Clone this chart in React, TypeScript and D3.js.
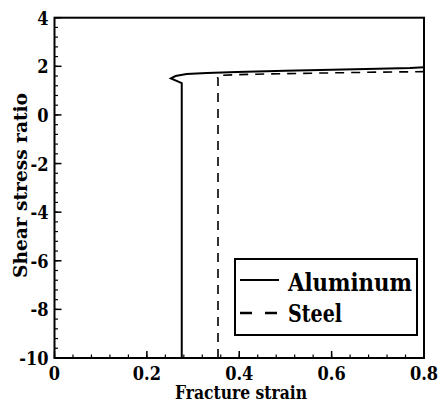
import React from 'react';
import * as d3 from 'd3';

// aluminum curve (fracture strain, shear stress ratio)
const aluminumX = [0.2755, 0.2755, 0.252, 0.262, 0.286, 0.33, 0.395, 0.5, 0.6, 0.7, 0.77, 0.8];
const aluminumY = [-10, 1.31, 1.5, 1.6, 1.68, 1.72, 1.77, 1.82, 1.86, 1.9, 1.93, 1.96];

// steel curve
const steelX = [0.354, 0.354, 0.352, 0.36, 0.4, 0.5, 0.6, 0.7, 0.8];
const steelY = [-10, 1.5, 1.58, 1.63, 1.66, 1.7, 1.73, 1.76, 1.78];

const xTicks = [0, 0.2, 0.4, 0.6, 0.8];
const yTicks = [4, 2, 0, -2, -4, -6, -8, -10];
const legendNames = ['Aluminum', 'Steel'];

const W = 438, H = 405;
const margin = {top: 17.7, right: 14, bottom: 47, left: 54.5};
const font = "'DejaVu Serif Condensed', 'DejaVu Serif', serif";

export default function App() {
    const x = d3.scaleLinear().domain([0, 0.8]).range([margin.left, W - margin.right]);
    const y = d3.scaleLinear().domain([-10, 4]).range([H - margin.bottom, margin.top]);

    const line = d3.line<[number, number]>()
        .x(d => x(d[0]))
        .y(d => y(d[1]));

    const alPts = aluminumX.map((v, i) => [v, aluminumY[i]] as [number, number]);
    const stPts = steelX.map((v, i) => [v, steelY[i]] as [number, number]);

    const xMinor = d3.range(0, 0.8001, 0.04);
    const yMinor = d3.range(-10, 4.001, 0.4);

    const x0 = x(0), x1 = x(0.8), y0 = y(-10), y1 = y(4);

    // legend box
    const lg = {x: 235, y: 259, w: 182, h: 76};

    const txt = {fontFamily: font, fontWeight: 'bold' as const};

    return (
        <svg width={W} height={H} style={{position: 'absolute', left: 0, top: 0, background: '#fff'}}>
            <rect x={0} y={0} width={W} height={H} fill='#fff'/>

            {/* minor ticks */}
            {xMinor.map((t, i) => (
                <line key={'xm' + i} x1={x(t)} x2={x(t)} y1={y0} y2={y0 - 3.5} stroke='#000' strokeWidth={1.2}/>
            ))}
            {yMinor.map((t, i) => (
                <line key={'ym' + i} x1={x0} x2={x0 + 3.5} y1={y(t)} y2={y(t)} stroke='#000' strokeWidth={1.2}/>
            ))}
            {/* major ticks */}
            {xTicks.map(t => (
                <line key={'xt' + t} x1={x(t)} x2={x(t)} y1={y0} y2={y0 - 7} stroke='#000' strokeWidth={1.5}/>
            ))}
            {yTicks.map(t => (
                <line key={'yt' + t} x1={x0} x2={x0 + 7} y1={y(t)} y2={y(t)} stroke='#000' strokeWidth={1.5}/>
            ))}

            {/* curves */}
            <path d={line(alPts) || ''} fill='none' stroke='#000' strokeWidth={2}/>
            <path d={line(stPts) || ''} fill='none' stroke='#000' strokeWidth={1.6} strokeDasharray='9,7'/>

            {/* frame */}
            <rect x={x0} y={y1} width={x1 - x0} height={y0 - y1} fill='none' stroke='#000' strokeWidth={2}/>

            {/* tick labels */}
            {xTicks.map(t => (
                <text key={'xl' + t} x={x(t)} y={y0 + 22} textAnchor='middle' style={txt} fontSize={18}>
                    {t === 0 ? '0' : t.toFixed(1)}</text>
            ))}
            {yTicks.map(t => (
                <text key={'yl' + t} x={x0 - 6} y={y(t) + 7} textAnchor='end' style={txt} fontSize={18}>{t}</text>
            ))}

            {/* axis titles */}
            <text x={175} y={399} style={txt} fontSize={18} textLength={132}
                lengthAdjust='spacingAndGlyphs'>Fracture strain</text>
            <text transform='translate(27,278) rotate(-90)' style={txt} fontSize={19} textLength={185}
                lengthAdjust='spacingAndGlyphs'>Shear stress ratio</text>

            {/* legend */}
            <rect x={lg.x} y={lg.y} width={lg.w} height={lg.h} fill='#fff' stroke='#000' strokeWidth={2}/>
            <line x1={240} x2={279} y1={280} y2={280} stroke='#000' strokeWidth={2}/>
            <line x1={240} x2={279} y1={313} y2={313} stroke='#000' strokeWidth={2.5} strokeDasharray='12,13'/>
            <text x={288} y={291} style={txt} fontSize={25} textLength={124}
                lengthAdjust='spacingAndGlyphs'>{legendNames[0]}</text>
            <text x={288} y={322} style={txt} fontSize={25} textLength={54}
                lengthAdjust='spacingAndGlyphs'>{legendNames[1]}</text>
        </svg>
    );
}
